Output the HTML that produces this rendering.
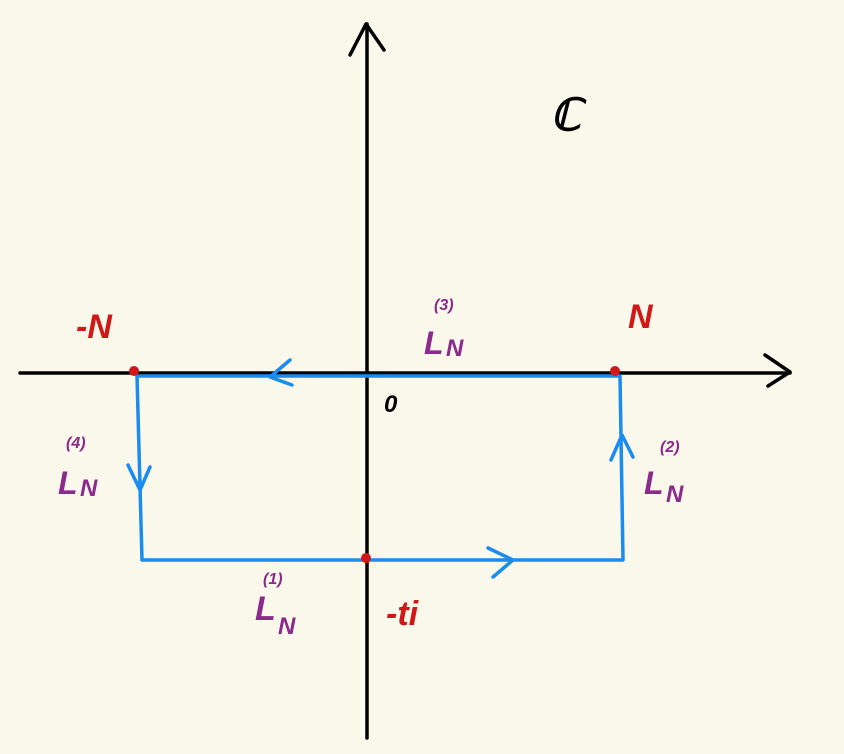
<!DOCTYPE html>
<html><head><meta charset="utf-8"><style>
html,body{margin:0;padding:0;background:#faf7eb;}
svg{display:block;}
text{font-family:"Liberation Sans",sans-serif;font-style:italic;font-weight:bold;}
</style></head><body>
<svg width="844" height="754" viewBox="0 0 844 754" xmlns="http://www.w3.org/2000/svg">
<rect width="844" height="754" fill="#faf7eb"/>
<g stroke="#000" stroke-width="3.5" fill="none" stroke-linecap="round" stroke-linejoin="round">
<line x1="20" y1="373" x2="790" y2="373"/>
<polyline points="765,355 790,372 768,386"/>
<line x1="367" y1="24" x2="367" y2="738"/>
<polyline points="350,55 366,24 384,50"/>
</g>
<g stroke="#1a8cf0" stroke-width="3.5" fill="none" stroke-linecap="round" stroke-linejoin="round">
<polyline points="137,376 620,376 623,560 142,560 137,376"/>
<polyline points="290,360 270,377 292,385"/>
<polyline points="128,465 140,490 150,467"/>
<polyline points="488,548 513,560 493,577"/>
<polyline points="611,460 622,435 633,457"/>
</g>
<g fill="#d01818">
<circle cx="134" cy="371" r="5"/>
<circle cx="615" cy="371" r="5"/>
<circle cx="366" cy="558" r="5"/>
</g>
<g fill="#d01818" font-size="34">
<text x="76" y="338">-N</text>
<text x="628" y="328">N</text>
<text x="386" y="625">-ti</text>
</g>
<text x="384" y="412" font-size="24" fill="#000">0</text>
<text x="550" y="130" font-size="44" fill="#000" font-style="normal">ℂ</text>
<g fill="#8a2a8a">
<text x="424" y="354" font-size="32">L</text><text x="446" y="356" font-size="24">N</text><text x="434" y="310" font-size="16">(3)</text>
<text x="58" y="494" font-size="32">L</text><text x="80" y="496" font-size="24">N</text><text x="66" y="448" font-size="16">(4)</text>
<text x="644" y="494" font-size="32">L</text><text x="666" y="502" font-size="24">N</text><text x="660" y="452" font-size="16">(2)</text>
<text x="255" y="620" font-size="34">L</text><text x="278" y="634" font-size="24">N</text><text x="263" y="584" font-size="16">(1)</text>
</g>
</svg>
</body></html>
